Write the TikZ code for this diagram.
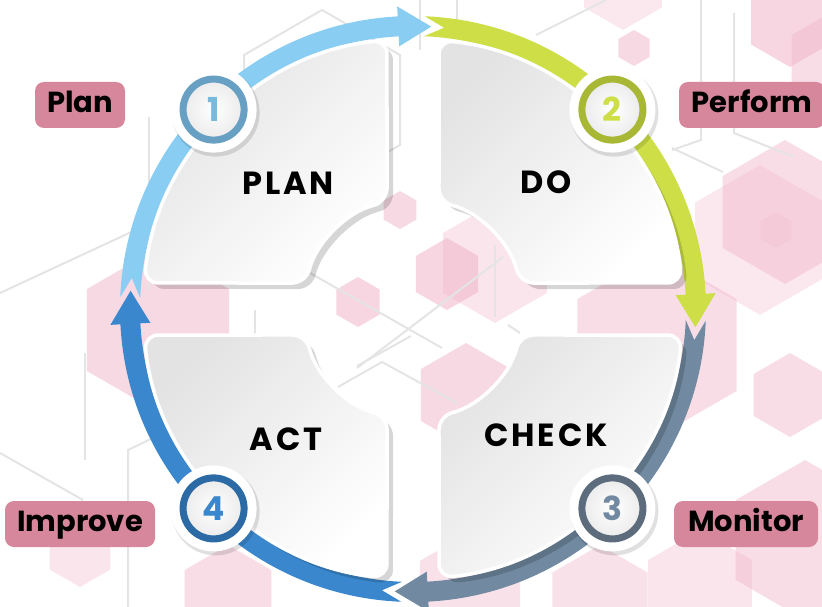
\documentclass[tikz,border=0pt]{standalone}
\usepackage{fontspec}
\setmainfont{Poppins}
\usetikzlibrary{calc}

\definecolor{planblue}{RGB}{137,205,243}
\definecolor{dogreen}{RGB}{205,222,71}
\definecolor{checkslate}{RGB}{114,138,161}
\definecolor{actblue}{RGB}{58,135,205}
\definecolor{ringone}{RGB}{104,160,196}
\definecolor{ringtwo}{RGB}{168,184,52}
\definecolor{ringthree}{RGB}{92,108,125}
\definecolor{ringfour}{RGB}{44,106,166}
\definecolor{tagpink}{RGB}{215,135,155}
\definecolor{hexpink}{RGB}{240,180,200}
\definecolor{gridgray}{RGB}{228,228,228}

\tikzset{
  gridline/.style={draw=gridgray, line width=2pt},
  panel/.style={draw=white, line width=3.5pt, rounded corners=14pt,
    top color=black!11, bottom color=white, shading angle=45},
  panelshadow/.style={fill=black, opacity=.16, rounded corners=14pt},
  phasetext/.style={font=\bfseries\fontsize{32}{34}\selectfont\addfontfeatures{LetterSpace=9}},
  badge/.style={circle, line width=7pt, minimum size=61pt, inner sep=0pt,
    inner color=white, outer color=black!8, font=\bfseries\fontsize{33}{35}\selectfont},
  tagbox/.style={fill=tagpink, rounded corners=9pt, minimum height=46pt, inner xsep=0pt,
    text height=21.5pt, text depth=7pt, font=\bfseries\fontsize{29}{30}\selectfont}
}

\begin{document}
\begin{tikzpicture}[x=1pt,y=-1pt]
  \useasboundingbox (0,0) rectangle (822,607);
  % pink hexagons behind
  \foreach \x/\y/\r/\o in {
    790/22/45/.55, 835/60/50/.45, 623/-15/45/.3, 634/48/18/.5,
    785/212/72/.45, 760/240/75/.3, 776/230/18/.25, 657/345/92/.45,
    790/395/42/.45, 805/540/80/.45, 447/274/36/.55, 495/263/60/.35,
    400/210/19/.5, 358/302/25/.55, 466/395/52/.5, 158/330/82/.5,
    80/552/35/.35, 228/595/50/.45, 470/590/58/.4, 600/600/55/.4,
    700/590/60/.35%
  }{
    \fill[hexpink, opacity=\o] (\x,\y) +(30:\r pt) -- +(90:\r pt) -- +(150:\r pt)
      -- +(210:\r pt) -- +(270:\r pt) -- +(330:\r pt) -- cycle;
  }
  % grey outlines
  \draw[gridline] (322,10) -- (400,55) -- (400,145) -- (322,190) -- (244,145) -- (244,55) -- cycle;
  \draw[gridline] (149,117) -- (149,290);
  \draw[gridline] (0,293) -- (140,228);
  \draw[gridline] (420,0) -- (420,50);
  \draw[gridline] (457,0) -- (457,20);
  \draw[gridline] (536,35) -- (606,0);
  \draw[gridline] (701,0) -- (701,140) -- (672,150);
  \draw[gridline] (734,13) -- (734,133) -- (794,157);
  \draw[gridline] (672,148) -- (723,172);
  \draw[gridline] (310,273) -- (442,348);
  \draw[gridline] (357,368) -- (503,257);
  \draw[gridline] (338,387) -- (382,362) -- (457,403);
  \draw[gridline] (495,245) -- (495,317);
  \draw[gridline] (508,325) -- (520,333);
  \draw[gridline] (85,353) -- (85,460);
  \draw[gridline] (0,453) -- (83,500);
  \draw[gridline] (128,607) -- (128,450) -- (157,436);
  \draw[gridline] (255,310) -- (255,336);
  \draw[gridline] (357,366) -- (411,336);

  \begin{scope}[shift={(413,309)}]
    % cycle arrows
    \foreach \t/\col in {86.3/planblue, -3.7/dogreen, -93.7/checkslate, -183.7/actblue}{
      \pgfmathsetmacro\s{\t+90}
      \fill[\col] ({\s+1.4}:293pt) arc[start angle={\s+1.4}, end angle={\t+6.7}, radius=293pt]
        -- ({\t+6.7}:303pt) -- (\t:283pt) -- ({\t+6.7}:263pt) -- ({\t+6.7}:273pt)
        arc[start angle={\t+6.7}, end angle={\s+1.4}, radius=273pt] -- ({\s-2.6}:283pt) -- cycle;
    }
    % quarter panels
    \foreach \pa/\pb/\pc/\pd in {84.47/5.53/13.67/76.33, 95.53/174.47/166.33/103.67,
      264.47/185.53/193.67/256.33, -84.47/-5.53/-13.67/-76.33}{
      \fill[panelshadow, shift={(6pt,-6pt)}] (\pa:270pt) arc[start angle=\pa, end angle=\pb, radius=270pt]
        -- (\pc:110pt) arc[start angle=\pc, end angle=\pd, radius=110pt] -- cycle;
      \path[panel] (\pa:270pt) arc[start angle=\pa, end angle=\pb, radius=270pt]
        -- (\pc:110pt) arc[start angle=\pc, end angle=\pd, radius=110pt] -- cycle;
    }
    % number badges
    \foreach \ang/\num/\ring/\numcol in {135/1/ringone/planblue!90!black, 45/2/ringtwo/dogreen,
      -45/3/ringthree/checkslate, -135/4/ringfour/actblue}{
      \fill[black, opacity=.12] (\ang:282pt) ++(2pt,-3pt) circle[radius=44pt];
      \fill[white] (\ang:282pt) circle[radius=43pt];
      \node[badge, draw=\ring, text=\numcol] (badge\num) at (\ang:282pt) {\num};
    }
  \end{scope}

  \node[phasetext] (phasePlan) at (288,183) {PLAN};
  \node[phasetext] (phaseDo) at (546,182) {DO};
  \node[phasetext] (phaseCheck) at (546,435) {CHECK};
  \node[phasetext] (phaseAct) at (286,439) {ACT};

  \node[tagbox, minimum width=90pt] (tagPlan) at (80,105) {Plan};
  \node[tagbox, minimum width=146pt] (tagPerform) at (752,105) {Perform};
  \node[tagbox, minimum width=144pt] (tagMonitor) at (746,524) {Monitor};
  \node[tagbox, minimum width=150pt] (tagImprove) at (80,524) {Improve};
\end{tikzpicture}
\end{document}
